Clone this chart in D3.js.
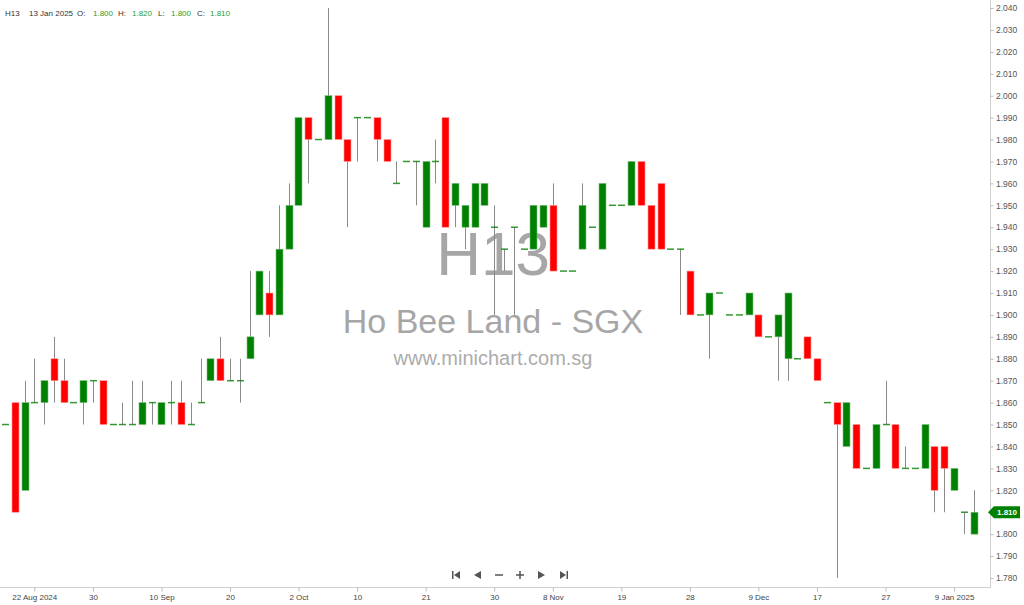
<!DOCTYPE html>
<html><head><meta charset="utf-8">
<script src="https://cdn.jsdelivr.net/npm/d3@7"></script>
<style>
body{margin:0;background:#fff}
svg{display:block}
text{font-family:"Liberation Sans",Arial,sans-serif}
</style>
</head><body>
<svg id="c" width="1024" height="605"></svg>
<script>
const symbol = "H13";
const companyName = "Ho Bee Land - SGX";
const siteName = "www.minichart.com.sg";

const dates = [
"2024-08-19","2024-08-20","2024-08-21","2024-08-22","2024-08-23","2024-08-26","2024-08-27","2024-08-28","2024-08-29","2024-08-30",
"2024-09-02","2024-09-03","2024-09-04","2024-09-05","2024-09-06","2024-09-09","2024-09-10","2024-09-11","2024-09-12","2024-09-13",
"2024-09-16","2024-09-18","2024-09-19","2024-09-20","2024-09-23","2024-09-24","2024-09-26","2024-09-27","2024-09-30",
"2024-10-01","2024-10-02","2024-10-03","2024-10-04","2024-10-07","2024-10-08","2024-10-09","2024-10-10","2024-10-11","2024-10-14",
"2024-10-15","2024-10-16","2024-10-17","2024-10-18","2024-10-21","2024-10-22","2024-10-23","2024-10-24","2024-10-25","2024-10-28",
"2024-10-29","2024-10-30",
"2024-11-01","2024-11-04","2024-11-05","2024-11-06","2024-11-07","2024-11-08","2024-11-11","2024-11-12","2024-11-13","2024-11-14",
"2024-11-15","2024-11-18","2024-11-19","2024-11-20","2024-11-21","2024-11-22","2024-11-25","2024-11-26","2024-11-27","2024-11-28",
"2024-11-29",
"2024-12-02","2024-12-03","2024-12-04","2024-12-05","2024-12-06","2024-12-09","2024-12-10","2024-12-11","2024-12-12","2024-12-13",
"2024-12-16","2024-12-17","2024-12-18","2024-12-19","2024-12-20","2024-12-23","2024-12-24","2024-12-26","2024-12-27","2024-12-30",
"2025-01-02","2025-01-03","2025-01-06","2025-01-07","2025-01-08","2025-01-09","2025-01-10","2025-01-13"
];

const open = [
1.85,1.86,1.82,
1.86,1.86,1.88,1.87,1.86,1.86,1.87,1.87,1.85,1.85,
1.85,1.85,1.86,1.85,1.86,1.86,1.85,1.86,1.87,1.88,
1.87,1.87,1.88,1.90,1.91,1.90,1.93,1.95,1.99,1.98,
1.98,2.00,1.98,1.99,1.99,1.99,1.98,1.96,1.97,1.97,
1.94,1.97,1.99,1.95,1.94,1.94,1.95,1.94,1.93,1.94,
1.93,1.93,1.94,1.95,1.92,1.92,1.93,1.94,1.93,1.95,
1.95,1.95,1.97,1.95,1.96,1.93,1.93,1.92,1.90,1.90,
1.91,1.90,1.90,1.90,1.90,1.89,1.89,1.88,1.88,1.89,
1.88,1.86,1.86,1.84,1.85,1.83,1.83,1.85,1.85,1.83,
1.83,1.83,1.84,1.84,1.82,1.81,1.80
];
const high = [
1.85,1.86,1.87,
1.88,1.87,1.89,1.88,1.86,1.87,1.87,1.87,1.85,1.86,
1.87,1.87,1.86,1.86,1.87,1.87,1.86,1.88,1.88,1.89,
1.88,1.88,1.92,1.92,1.92,1.95,1.96,1.99,1.99,1.98,
2.04,2.00,1.98,1.99,1.99,1.99,1.98,1.97,1.97,1.97,
1.97,1.98,1.99,1.96,1.95,1.96,1.96,1.95,1.93,1.94,
1.93,1.95,1.95,1.96,1.92,1.92,1.96,1.94,1.96,1.95,
1.95,1.97,1.97,1.95,1.96,1.93,1.93,1.92,1.90,1.91,
1.91,1.90,1.90,1.91,1.90,1.89,1.90,1.91,1.88,1.89,
1.88,1.86,1.86,1.86,1.85,1.83,1.85,1.87,1.85,1.84,
1.83,1.85,1.84,1.84,1.83,1.81,1.82
];
const low = [
1.85,1.81,1.82,
1.86,1.85,1.86,1.86,1.86,1.85,1.86,1.85,1.85,1.85,
1.85,1.85,1.85,1.85,1.85,1.85,1.85,1.86,1.87,1.87,
1.87,1.86,1.88,1.90,1.89,1.90,1.93,1.95,1.96,1.98,
1.98,1.98,1.94,1.97,1.99,1.97,1.97,1.96,1.97,1.95,
1.94,1.96,1.94,1.94,1.93,1.94,1.95,1.90,1.92,1.90,
1.93,1.93,1.94,1.92,1.92,1.92,1.93,1.94,1.93,1.95,
1.95,1.95,1.95,1.93,1.93,1.93,1.90,1.90,1.90,1.88,
1.91,1.90,1.90,1.90,1.89,1.89,1.87,1.87,1.88,1.88,
1.87,1.86,1.78,1.84,1.83,1.83,1.83,1.85,1.83,1.83,
1.83,1.83,1.81,1.81,1.82,1.80,1.80
];
const close = [
1.85,1.81,1.86,
1.86,1.87,1.87,1.86,1.86,1.87,1.87,1.85,1.85,1.85,
1.85,1.86,1.86,1.86,1.86,1.85,1.85,1.86,1.88,1.87,
1.87,1.87,1.89,1.92,1.90,1.93,1.95,1.99,1.98,1.98,
2.00,1.98,1.97,1.99,1.99,1.98,1.97,1.96,1.97,1.97,
1.97,1.97,1.94,1.96,1.95,1.96,1.96,1.94,1.93,1.94,
1.93,1.95,1.95,1.92,1.92,1.92,1.95,1.94,1.96,1.95,
1.95,1.97,1.95,1.93,1.93,1.93,1.93,1.90,1.90,1.91,
1.91,1.90,1.90,1.91,1.89,1.89,1.90,1.91,1.88,1.88,
1.87,1.86,1.85,1.86,1.83,1.83,1.85,1.85,1.83,1.83,
1.83,1.85,1.82,1.83,1.83,1.81,1.81
];

const xTickDates = ["2024-08-22","2024-08-30","2024-09-10","2024-09-20","2024-10-02","2024-10-10","2024-10-21","2024-10-30",
  "2024-11-08","2024-11-19","2024-11-28","2024-12-09","2024-12-17","2024-12-27","2025-01-09"];
const xTickLabels = ["22 Aug 2024","30","10 Sep","20","2 Oct","10","21","30","8 Nov","19","28","9 Dec","17","27","9 Jan 2025"];
const priceTicks = [2.04,2.03,2.02,2.01,2.00,1.99,1.98,1.97,1.96,1.95,1.94,1.93,1.92,1.91,1.90,1.89,1.88,1.87,1.86,1.85,1.84,1.83,1.82,1.81,1.80,1.79,1.78];
const headerLabels = ["O:","H:","L:","C:"];
const lastDateLabel = "13 Jan 2025";

const UP = "#008000", DOWN = "#ff0000", WICK = "#8a8a8a";
const svg = d3.select("#c");

const x = d3.scalePoint().domain(dates).range([4.95, 973.6]);
const y = d3.scaleLinear().domain([1.78, 2.04]).range([578, 8]);

// watermark
const wm = svg.append("g").attr("fill", "#a6a6a6").attr("text-anchor", "middle");
wm.append("text").attr("x", 493).attr("y", 275).attr("font-size", 62).text(symbol);
wm.append("text").attr("x", 493).attr("y", 333).attr("font-size", 34).text(companyName);
wm.append("text").attr("x", 493).attr("y", 365).attr("font-size", 20).attr("fill", "#acacac").text(siteName);

// candles
const data = dates.map((d, i) => ({d, o: open[i], h: high[i], l: low[i], c: close[i]}));
const g = svg.append("g");
g.selectAll("line.w").data(data).join("line")
  .attr("x1", d => Math.round(x(d.d)) + 0.5).attr("x2", d => Math.round(x(d.d)) + 0.5)
  .attr("y1", d => y(d.h)).attr("y2", d => y(d.l))
  .attr("stroke", WICK).attr("stroke-width", 1);
g.selectAll("rect.b").data(data).join("rect")
  .attr("x", d => Math.round(x(d.d)) - 3)
  .attr("width", 7)
  .attr("y", d => d.o === d.c ? y(d.c) - 0.75 : y(Math.max(d.o, d.c)))
  .attr("height", d => d.o === d.c ? 1.5 : Math.abs(y(d.o) - y(d.c)))
  .attr("fill", d => d.c >= d.o ? UP : DOWN)
  .attr("fill-opacity", d => d.o === d.c ? 0.8 : 1)
  .attr("stroke", d => d.o === d.c ? "none" : (d.c >= d.o ? "#7fbf7f" : "#ff9a9a"))
  .attr("stroke-width", 0.6);

// right axis
const yAxis = d3.axisRight(y).tickValues(priceTicks).tickSize(3).tickFormat(d3.format(".3f"));
const ya = svg.append("g").attr("transform", "translate(990.5,0)").call(yAxis);
ya.select(".domain").attr("stroke", "#cfcfcf").attr("d", "M0,0V587.5");
ya.selectAll(".tick line").attr("stroke", "#bbb");
ya.selectAll(".tick text").attr("x", 5.5).attr("fill", "#555").attr("font-size", 8.5)
  .attr("font-family", "Liberation Sans, Arial, sans-serif");

// bottom axis
const labelMap = new Map(xTickDates.map((d, i) => [d, xTickLabels[i]]));
const xAxis = d3.axisBottom(x).tickValues(xTickDates).tickSize(4).tickFormat(d => labelMap.get(d));
const xa = svg.append("g").attr("transform", "translate(0,587.5)").call(xAxis);
xa.select(".domain").attr("stroke", "#cfcfcf").attr("d", "M0,0H991");
xa.selectAll(".tick line").attr("stroke", "#bbb");
xa.selectAll(".tick text").attr("y", 7).attr("fill", "#444").attr("font-size", 8)
  .attr("font-family", "Liberation Sans, Arial, sans-serif");

// last price tag
const lastC = close[close.length - 1];
const ty = y(lastC);
svg.append("path").attr("d", `M988,${ty} L994,${ty-6} L1020,${ty-6} L1020,${ty+6} L994,${ty+6} Z`).attr("fill", UP);
svg.append("text").attr("x", 1007).attr("y", ty + 3).attr("text-anchor", "middle").attr("fill", "#fff")
  .attr("font-size", 8).attr("font-weight", "bold").text(d3.format(".3f")(lastC));

// header
const n = dates.length - 1;
const hv = [open[n], high[n], low[n], close[n]];
const hd = svg.append("g").attr("font-size", 8);
hd.append("text").attr("x", 5).attr("y", 16).attr("fill", "#333").text(symbol);
hd.append("text").attr("x", 29).attr("y", 16).attr("fill", "#333").text(lastDateLabel);
const lx = [77, 118, 158, 197], vx = [93, 132, 171, 210];
headerLabels.forEach((lab, i) => {
  hd.append("text").attr("x", lx[i]).attr("y", 16).attr("fill", "#333").text(lab);
  hd.append("text").attr("x", vx[i]).attr("y", 16).attr("fill", "#2a9d2a").text(d3.format(".3f")(hv[i]));
});

// navigation icons
const nav = svg.append("g").attr("fill", "#555").attr("stroke", "none");
const ny = 575;
nav.append("rect").attr("x", 452).attr("y", ny - 4).attr("width", 1.5).attr("height", 8);
nav.append("path").attr("d", `M454,${ny} L460,${ny-4} L460,${ny+4} Z`);
nav.append("path").attr("d", `M474,${ny} L481,${ny-4} L481,${ny+4} Z`);
nav.append("rect").attr("x", 495).attr("y", ny - 0.75).attr("width", 8).attr("height", 1.5);
nav.append("rect").attr("x", 516).attr("y", ny - 0.75).attr("width", 8).attr("height", 1.5);
nav.append("rect").attr("x", 519.25).attr("y", ny - 4).attr("width", 1.5).attr("height", 8);
nav.append("path").attr("d", `M545,${ny} L538,${ny-4} L538,${ny+4} Z`);
nav.append("path").attr("d", `M566,${ny} L560,${ny-4} L560,${ny+4} Z`);
nav.append("rect").attr("x", 566.5).attr("y", ny - 4).attr("width", 1.5).attr("height", 8);
</script>
</body></html>
